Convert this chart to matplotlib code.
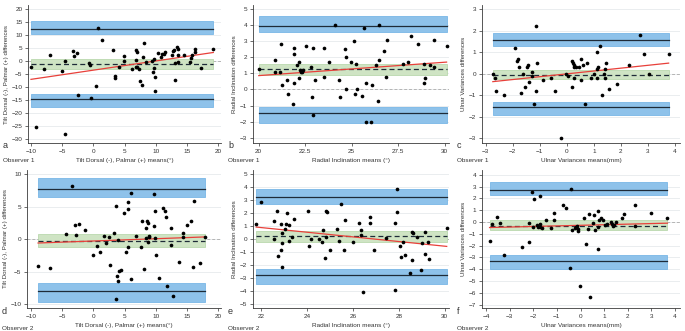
import matplotlib.pyplot as plt

plt.rcParams['font.family'] = ['Liberation Sans', 'DejaVu Sans']

# ---- data (Bland-Altman plots) ----
a_x = [-10.0, -7.86, -6.96, -4.98, -4.5, -3.2, -3.1, -2.6, -2.4, -9.15, -4.55, -0.7, -0.6, 0.46, 0.68,
       -0.34, 1.37, 3.13, 3.45, 3.45, 4.15, 4.95, 4.95, 6.23, 6.8, 6.9, 6.87, 6.75, 7.0, 7.3, 7.4, 7.8,
       8.05, 7.86, 8.37, 9.33, 9.54, 9.75, 9.75, 9.8, 9.8, 10.4, 10.9, 11.04, 11.25, 11.4, 12.64, 12.74,
       12.85, 13.07, 13.1, 13.33, 13.54, 13.5, 13.5, 14.45, 15.52, 15.68, 15.84, 16.2, 16.3, 17.17, 19.2]
a_y = [-2.4, -3.1, 2.4, -3.9, 0.0, 3.9, 1.8, 3.0, -13.1, -25.4, -28.1, -0.6, -1.6, -9.6, 12.8,
       -14.1, 8.0, 4.4, -5.8, -6.5, -2.2, 1.8, 0.2, -3.0, 4.1, 3.5, 0.3, -2.1, -2.4, -3.0, -7.6, -9.0,
       7.0, 1.7, -0.3, 0.0, -4.3, 0.7, -2.8, -6.0, -11.5, 3.0, 1.5, 2.6, 2.9, 3.4, 2.2, 4.0,
       4.4, -7.2, -0.8, 5.3, 4.7, 2.2, -0.2, 2.2, -0.3, 1.1, 2.4, 4.6, 3.5, -2.8, 4.5]

b_x = [20.0, 20.85, 20.88, 21.15, 21.2, 21.25, 21.5, 21.55, 21.85, 21.9, 21.9, 21.9, 22.05, 22.15, 22.15,
       22.2, 22.27, 22.33, 22.4, 22.55, 22.8, 22.85, 22.9, 22.92, 23.0, 23.5, 23.5, 23.76, 24.1, 24.3,
       24.36, 24.65, 24.7, 24.7, 24.98, 25.1, 25.2, 25.24, 25.26, 25.55, 25.64, 25.75, 25.75, 26.1, 26.06,
       26.3, 26.4, 26.44, 26.45, 26.72, 26.85, 26.9, 27.76, 28.0, 28.2, 28.55, 28.86, 28.9, 28.95, 29.23,
       29.45, 29.45, 30.1]
b_y = [1.3, 1.1, 1.8, 1.1, 2.8, 0.3, 0.6, -0.3, -0.9, 0.4, 2.2, 2.6, 1.5, 1.7, 0.7,
       1.2, 1.1, 1.1, 1.2, 2.7, 1.4, -0.5, 2.6, -1.6, 0.6, 2.6, 0.8, 1.7, 4.0, 0.6,
       -0.5, 2.5, 2.0, 0.0, 1.7, 3.0, -0.3, 1.6, 0.0, -0.4, 3.8, 0.4, -2.0, 0.3, -2.0,
       1.5, -0.7, 1.8, 4.0, 2.4, 0.8, 3.1, 1.6, 1.7, 3.3, 2.8, 1.6, 0.4, 0.7, 1.5,
       3.1, 1.4, 2.7]

c_x = [-2.73, -2.64, -2.62, -2.31, -1.93, -1.83, -1.8, -1.77, -1.68, -1.6, -1.53, -1.48, -1.43, -1.41,
       -1.27, -1.27, -1.22, -1.12, -1.1, -1.12, -0.87, -0.6, -0.42, -0.2, -0.02, 0.04, 0.19, 0.23, 0.28,
       0.28, 0.34, 0.46, 0.19, 0.28, 0.53, 0.54, 0.59, 0.69, 0.75, 0.89, 1.0, 1.1, 1.11, 1.11, 1.16,
       1.24, 1.3, 1.39, 1.4, 1.4, 1.45, 1.55, 1.85, 2.3, 2.71, 2.86, 3.02, 3.76]
c_y = [0.0, -0.2, -0.8, -1.0, 1.2, 0.6, 0.7, 0.3, -0.9, 0.0, -0.6, 0.3, 0.4, -0.4,
       0.1, -0.1, -1.4, 2.2, 0.5, -0.8, -0.3, -0.2, -0.8, -3.0, 0.0, -0.1, 0.6, 0.5, 0.4,
       0.3, 0.3, 0.3, -0.6, -0.2, 0.7, -0.3, 0.4, -1.4, 0.5, -0.2, 0.0, 1.0, 0.2, -0.2, 0.3,
       1.3, -1.0, 0.0, 0.2, -0.2, 0.5, -0.7, -0.5, 0.4, 1.8, 0.9, 0.0, 0.9]

d_x = [-8.83, -6.9, -4.34, -3.33, -2.85, -2.74, -2.36, -1.35, -0.07, 0.62, 1.05, 1.75, 2.07, 2.44, 2.7,
       3.35, 3.56, 3.6, 4.0, 3.8, 3.9, 4.15, 4.4, 4.97, 5.23, 5.55, 5.6, 5.55, 6.1, 6.1, 6.8, 7.67,
       7.83, 8.05, 8.37, 8.37, 8.63, 8.8, 8.74, 8.85, 8.9, 9.75, 9.7, 9.86, 9.86, 9.97, 10.5, 11.14,
       11.46, 11.57, 12.37, 12.48, 12.7, 11.85, 13.72, 14.4, 14.4, 14.96, 15.6, 15.9, 16.05, 17.07, 17.8]
d_y = [-4.07, -4.5, 0.85, 8.2, 2.1, 0.65, 2.3, 1.45, -2.43, -1.1, -2.0, 0.43, -0.64, 0.33, -3.96,
       0.95, -9.2, 5.1, -0.1, -5.7, -6.4, -4.9, -4.8, 4.0, -2.0, 4.65, 5.75, -1.2, 7.0, -6.1, 0.43, -1.2,
       2.7, -4.6, 1.77, 0.23, 2.7, 2.4, -0.5, 0.4, 0.3, 1.97, 6.9, 4.3, 0.18, -2.43, -5.9, 4.8,
       4.3, 3.45, 1.66, -0.95, -8.7, -7.25, -3.55, 0.38, 0.9, 2.1, 2.8, -4.27, 5.85, -3.66, 0.28]

e_x = [21.78, 22.0, 22.57, 22.57, 22.67, 22.71, 22.86, 22.86, 22.9, 22.9, 22.9, 23.05, 23.08, 23.12, 23.19,
       23.2, 23.35, 23.45, 24.05, 24.1, 24.15, 24.53, 24.63, 24.7, 24.82, 24.87, 24.8, 24.82, 25.02, 25.31,
       25.37, 25.47, 25.6, 25.66, 26.0, 26.25, 26.35, 26.35, 26.45, 26.75, 26.75, 26.9, 27.45, 27.83, 27.92,
       27.93, 27.84, 28.04, 28.08, 28.2, 28.29, 28.47, 28.58, 28.62, 28.58, 28.78, 28.95, 29.0, 29.13, 29.16,
       29.27, 29.31, 30.09]
e_y = [1.17, 2.84, -0.04, 1.35, 2.17, -1.32, 1.17, -0.84, -0.35, 0.45, -2.15, 0.76, 1.17, 2.0, -0.14,
       1.07, 0.17, 1.55, 2.17, -0.53, -0.04, -0.04, -0.24, 0.66, 2.17, 2.04, -1.45, 0.17, -0.84, 0.76,
       -0.14, 2.66, -0.84, 1.45, -0.24, 1.25, 0.66, 0.27, -4.13, 1.25, 1.66, -0.84, 0.06, 1.25, 3.84,
       2.04, -3.95, -0.53, -1.43, -0.24, -1.25, -2.64, 0.55, 0.45, -1.63, 0.17, -2.43, -0.35, -1.14, 0.55,
       -0.24, -1.53, 0.86]

f_x = [-3.85, -3.73, -3.54, -3.39, -3.23, -2.48, -2.2, -2.17, -2.07, -2.03, -1.97, -1.83, -1.78, -1.73,
       -1.7, -1.62, -1.72, -1.46, -1.25, -1.14, -1.11, -0.73, -0.63, -0.45, -0.42, -0.38, -0.25, -0.18,
       -0.14, -0.11, -0.1, -0.01, 0.14, 0.24, 0.3, 0.34, 0.39, 0.54, 0.59, 0.63, 0.72, 0.73, 0.75, 0.8,
       0.86, 0.94, 1.04, 1.1, 1.3, 1.34, 1.38, 1.41, 1.51, 1.75, 1.86, 2.3, 2.31, 3.0, 3.68]
f_y = [-1.6, -0.18, 0.38, -0.1, -2.79, -2.08, -0.1, -1.71, 2.53, -0.41, 1.91, -0.27, -0.41, -0.2,
       -0.41, -0.47, 2.19, 0.21, -0.47, 0.21, 0.8, 1.4, 1.2, -3.89, 2.81, -0.69, -0.47, -0.41,
       -0.3, -0.61, -0.78, -5.39, 0.32, -1.88, -0.61, 0.69, -6.38, -0.07, 0.6, -0.67, -0.41, 0.89, -2.31, 0.21,
       0.3, 0.13, -0.27, -0.18, 0.0, -0.18, -0.35, -0.27, 0.0, 0.32, 0.69, 1.4, -0.38, 0.8, 0.32]

# mean difference with CI, upper and lower limits of agreement with CI
means = [-1.25, 1.25, -0.05, -0.23, 0.22, -0.3]
mean_ci = [(-2.9, 0.9), (0.88, 1.58), (-0.23, 0.17), (-1.2, 0.84), (-0.22, 0.6), (-0.64, 0.13)]
upper = [12.2, 3.96, 1.55, 7.65, 3.2, 2.7]
upper_ci = [(10.2, 15.4), (3.55, 4.57), (1.3, 1.89), (6.52, 9.33), (2.71, 3.84), (2.28, 3.38)]
lower = [-14.7, -1.49, -1.56, -7.9, -2.79, -3.27]
lower_ci = [(-17.6, -12.6), (-2.07, -1.07), (-1.9, -1.31), (-9.64, -6.77), (-3.48, -2.35), (-3.97, -2.81)]
# regression of differences on means: value at left / right end of data
fit_ends = [(-7.0, 3.3), (0.86, 1.7), (-0.37, 0.49), (-0.6, 0.33), (0.91, -0.58), (-0.47, -0.1)]

xs = [a_x, b_x, c_x, d_x, e_x, f_x]
ys = [a_y, b_y, c_y, d_y, e_y, f_y]
letters = ["a", "b", "c", "d", "e", "f"]
observers = ["Observer 1"] * 3 + ["Observer 2"] * 3
ylabels = ["Tilt Dorsal (-), Palmar (+) differences", "Radial Inclination differences",
           "Ulnar Variances differences"] * 2
xlabels = ["Tilt Dorsal (-), Palmar (+) means(°)", "Radial Inclination means (°)",
           "Ulnar Variances means(mm)"] * 2
xticks = [[-10, -5, 0, 5, 10, 15, 20], [20, 22.5, 25, 27.5, 30], [-3, -2, -1, 0, 1, 2, 3, 4],
          [-10, -5, 0, 5, 10, 15, 20], [22, 24, 26, 28, 30], [-4, -3, -2, -1, 0, 1, 2, 3, 4]]
xticklabels = [None, ["20", "22.5", "25", "27.5", "30"], None, None, None, None]
yticks = [list(range(-30, 21, 5)), list(range(-3, 6)), list(range(-3, 4)),
          [-10, -5, 0, 5, 10], list(range(-5, 6)), list(range(-7, 5))]
xlims = [(-10.48, 20.43), (19.69, 30.23), (-3.13, 4.18), (-10.6, 20.43), (21.64, 30.19), (-4.17, 4.21)]
ylims = [(-31.4, 21.5), (-3.33, 5.25), (-3.22, 3.19), (-10.57, 10.6), (-5.33, 5.31), (-7.28, 4.4)]

W, H = 685, 331
# axes boxes in pixels: left, top, right, bottom
boxes = [(28, 5, 221, 143), (253, 5, 449, 143), (482, 5, 680, 143),
         (27, 170, 221, 308), (253, 170, 449, 308), (482, 170, 680, 308)]
obs_offset = [17, 17, 17, 20, 20, 20]

BLUE = "#8ec2ea"
BLUE_EDGE = "#6aaee3"
GREEN = "#cfe4c4"
GREEN_EDGE = "#b2d4a4"
LINE = "#1e2b38"
TXT = "#333333"

fig = plt.figure(figsize=(W / 100, H / 100), dpi=100)
fig.patch.set_facecolor("white")

for i in range(6):
    l, t, r, b = boxes[i]
    ax = fig.add_axes([l / W, 1 - b / H, (r - l) / W, (b - t) / H])
    x, y = xs[i], ys[i]
    x0, x1 = min(x), max(x)

    for yt in yticks[i]:
        ax.axhline(yt, color="#e6eaec", lw=0.6, zorder=0)
    ax.axhline(0, color="#b5b5b5", lw=0.7, ls=(0, (3, 2)), zorder=1)

    ax.fill_between([x0, x1], *upper_ci[i], color=BLUE, ec=BLUE_EDGE, lw=0.5, zorder=2)
    ax.fill_between([x0, x1], *lower_ci[i], color=BLUE, ec=BLUE_EDGE, lw=0.5, zorder=2)
    ax.fill_between([x0, x1], *mean_ci[i], color=GREEN, ec=GREEN_EDGE, lw=0.5, zorder=2)
    ax.plot([x0, x1], [upper[i]] * 2, color=LINE, lw=0.9, zorder=3)
    ax.plot([x0, x1], [lower[i]] * 2, color=LINE, lw=0.9, zorder=3)
    ax.plot([x0, x1], [means[i]] * 2, color=LINE, lw=0.9, ls=(0, (4, 2.5)), zorder=3)
    ax.plot([x0, x1], fit_ends[i], color="#e8403a", lw=0.9, zorder=4)
    ax.scatter(x, y, s=7, color="black", lw=0, zorder=5)

    ax.set_xlim(*xlims[i])
    ax.set_ylim(*ylims[i])
    ax.set_xticks(xticks[i])
    if xticklabels[i]:
        ax.set_xticklabels(xticklabels[i])
    ax.set_yticks(yticks[i])
    for s in ["top", "right"]:
        ax.spines[s].set_visible(False)
    for s in ["left", "bottom"]:
        ax.spines[s].set_color("#3a3a3a")
        ax.spines[s].set_linewidth(0.6)
    ax.tick_params(labelsize=4.6, length=2.5, width=0.5, pad=1.5, colors=TXT)
    ax.set_ylabel(ylabels[i], fontsize=4.4, labelpad=2, color=TXT)
    ax.set_xlabel(xlabels[i], fontsize=4.6, labelpad=3, color=TXT)
    lx = (l - 25) / W
    ax.text(lx, 1 - (b + 3) / H, letters[i], transform=fig.transFigure,
            fontsize=6.5, va="center", color=TXT)
    ax.text(lx, 1 - (b + obs_offset[i]) / H, observers[i], transform=fig.transFigure,
            fontsize=4.6, va="center", color=TXT)

fig.savefig("out.png", dpi=100, facecolor="white")
